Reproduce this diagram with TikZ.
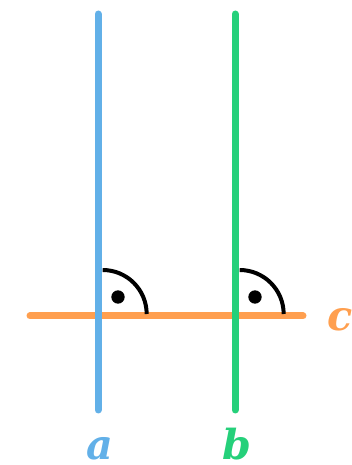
\documentclass[tikz,border=0pt]{standalone}
\usepackage{fontspec}
\setmainfont{DejaVu Serif}
\usepackage{tikz}
\usetikzlibrary{positioning}
\definecolor{lineA}{HTML}{62B0E8}
\definecolor{lineB}{HTML}{25D07A}
\definecolor{lineC}{HTML}{FF9F4F}

\begin{document}
\begin{tikzpicture}[
  x=0.75pt, y=0.75pt,
  every node/.style={font=\fontsize{31}{31}\selectfont\bfseries\itshape, anchor=base, inner sep=0pt},
  thickline/.style={line width=5.25pt, line cap=round},
  rightarc/.style={line width=3pt},
  rdot/.style={circle, fill=black, inner sep=0pt, minimum size=10pt}
]
\useasboundingbox (0,0) rectangle (352,465);

\coordinate (A1) at (98,451);
\coordinate (A2) at (98,55);
\coordinate (B1) at (235,451);
\coordinate (B2) at (235,55);
\coordinate (C1) at (30,149);
\coordinate (C2) at (303,149);

\draw[thickline, lineC] (C1) -- (C2);
\draw[thickline, lineA] (A1) -- (A2);
\draw[thickline, lineB] (B1) -- (B2);

\node[text=lineA] (a) at (100,6) {a};
\node[text=lineB] (b) at (237,6) {b};
\node[text=lineC] (c) at (340,134) {c};

% right angles
\coordinate (PA) at (98,149);
\coordinate (PB) at (235,149);
\draw[rightarc] ([xshift=3.5pt]PA) ++(0,46) arc[start angle=90, end angle=0, radius=44];
\draw[rightarc] ([xshift=3.5pt]PB) ++(0,46) arc[start angle=90, end angle=0, radius=44];
\node[rdot, anchor=center] (da) at (118,168) {};
\node[rdot, anchor=center] (db) at (255,168) {};

\end{tikzpicture}
\end{document}
